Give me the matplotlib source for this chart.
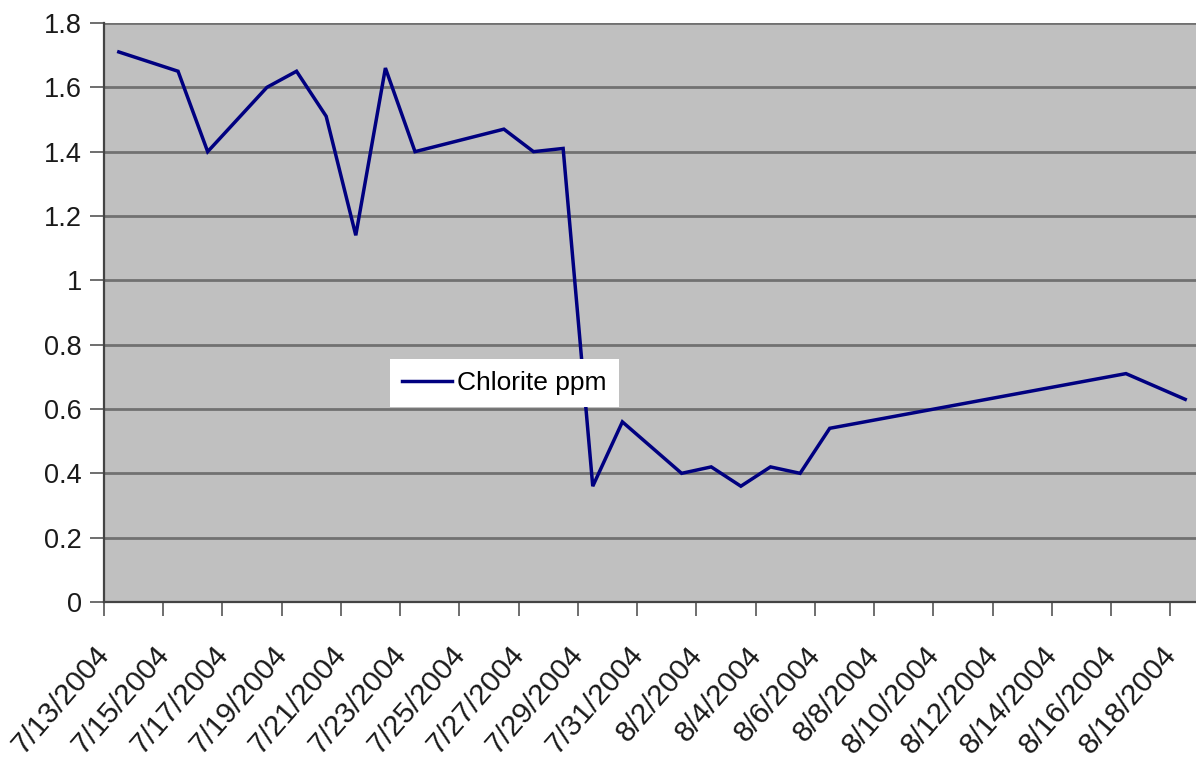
import datetime as dt
import matplotlib
matplotlib.use("Agg")
import matplotlib.pyplot as plt
import matplotlib.dates as mdates
import matplotlib.transforms as mtransforms

# Sample dates and chlorite readings (ppm)
sample_dates = [
    "2004-07-13", "2004-07-15", "2004-07-16", "2004-07-18", "2004-07-19",
    "2004-07-20", "2004-07-21", "2004-07-22", "2004-07-23", "2004-07-26",
    "2004-07-27", "2004-07-28", "2004-07-29", "2004-07-30", "2004-08-01",
    "2004-08-02", "2004-08-03", "2004-08-04", "2004-08-05", "2004-08-06",
    "2004-08-16", "2004-08-18",
]
chlorite_ppm = [
    1.71, 1.65, 1.40, 1.60, 1.65,
    1.51, 1.14, 1.66, 1.40, 1.47,
    1.40, 1.41, 0.36, 0.56, 0.40,
    0.42, 0.36, 0.42, 0.40, 0.54,
    0.71, 0.63,
]
series_name = "Chlorite ppm"

axis_start = "2004-07-13"
axis_end = "2004-08-18"
label_step_days = 2
y_ticks = [0, 0.2, 0.4, 0.6, 0.8, 1, 1.2, 1.4, 1.6, 1.8]
y_tick_labels = ["0", "0.2", "0.4", "0.6", "0.8", "1", "1.2", "1.4", "1.6", "1.8"]

FONT = ["Liberation Sans", "DejaVu Sans"]

to_num = lambda s: mdates.date2num(dt.datetime.strptime(s, "%Y-%m-%d"))
x_vals = [to_num(s) for s in sample_dates]
x0, x1 = to_num(axis_start), to_num(axis_end)

W, H = 1196, 766
fig = plt.figure(figsize=(W / 100, H / 100), dpi=100)
fig.patch.set_facecolor("white")
ax = fig.add_axes([104 / W, 1 - 602 / H, 1096 / W, 579 / H])
ax.set_facecolor("#c0c0c0")

ax.plot(x_vals, chlorite_ppm, color="#000080", lw=2.5, solid_joinstyle="miter",
        label=series_name, zorder=3)

ax.set_xlim(x0 - 0.5, x1 + 0.5)
ax.set_ylim(0, 1.8)

# category boundaries carry the tick marks, category centres carry the labels
label_days = [x0 + i for i in range(0, int(x1 - x0) + 1, label_step_days)]
ax.set_xticks([d - 0.5 for d in label_days])
ax.set_xticklabels([])
ax.set_xticks(label_days, minor=True)
lbls = [mdates.num2date(d).strftime("%-m/%-d/%Y") for d in label_days]
ax.set_xticklabels(lbls, minor=True)
ax.tick_params(axis="x", which="major", direction="out", length=10, width=1.2,
               color="#555555")
ax.tick_params(axis="x", which="minor", length=0, pad=0)
offset = mtransforms.ScaledTranslation(-14 / 100, -48 / 100, fig.dpi_scale_trans)
for t in ax.get_xticklabels(minor=True):
    t.set_rotation(49)
    t.set_rotation_mode("anchor")
    t.set_ha("right")
    t.set_va("center")
    t.set_fontfamily(FONT)
    t.set_fontsize(21.5)
    t.set_color("#1a1a1a")
    t.set_transform(t.get_transform() + offset)

ax.set_yticks(y_ticks)
ax.set_yticklabels(y_tick_labels, fontfamily=FONT, fontsize=19.5, color="#1a1a1a")
ax.tick_params(axis="y", direction="out", length=10, width=1.2, color="#555555",
               pad=6)

ax.grid(axis="y", color="#717171", lw=2.0, zorder=1)
ax.set_axisbelow(True)
for side in ("top", "right"):
    ax.spines[side].set_visible(False)
for side in ("left", "bottom"):
    ax.spines[side].set_color("#444444")
    ax.spines[side].set_linewidth(1.6)

leg = ax.legend(loc="upper left", bbox_to_anchor=(390 / W, 1 - 359 / H),
                bbox_transform=fig.transFigure, frameon=True, fancybox=False,
                edgecolor="none", facecolor="white", framealpha=1,
                prop={"family": FONT, "size": 19}, handlelength=1.9,
                handletextpad=0.2, borderpad=0.45, borderaxespad=0)
leg.get_frame().set_linewidth(0)

fig.savefig("out.png", dpi=100)
